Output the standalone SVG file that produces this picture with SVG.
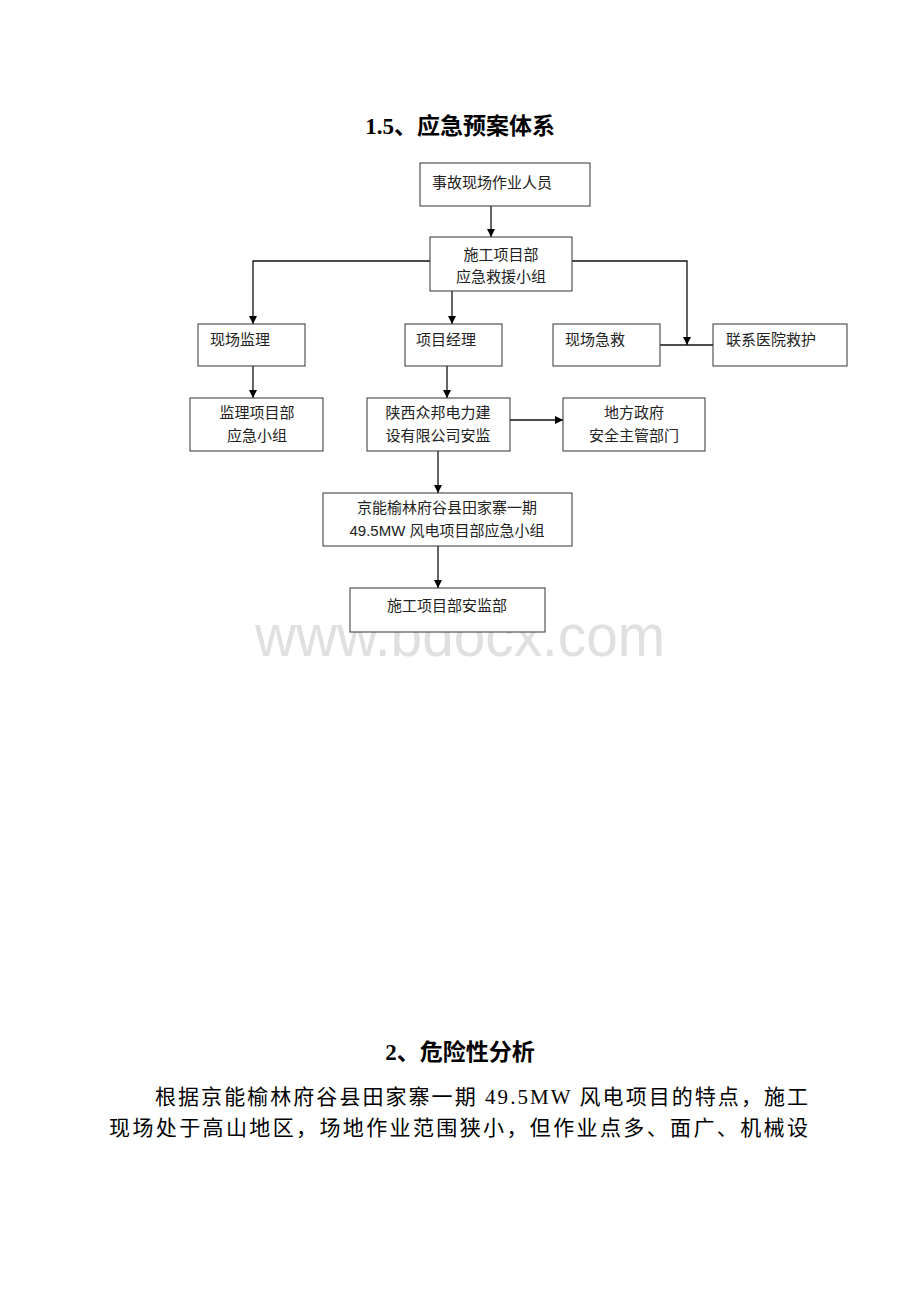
<svg xmlns="http://www.w3.org/2000/svg" width="920" height="1302" viewBox="0 0 920 1302">
<defs>
<style>
.box{fill:#fff;stroke:#333;stroke-width:1}
.t{font-family:"Liberation Sans","Noto Sans CJK SC",sans-serif;font-size:15px;fill:#222}
.c{text-anchor:middle}
.ln{fill:none;stroke:#111;stroke-width:1.3}
.h{font-family:"Liberation Serif","Noto Sans CJK SC",serif;font-weight:bold;font-size:23px;fill:#000;text-anchor:middle}
.p{font-family:"Liberation Serif","Noto Sans CJK SC",serif;font-size:21px;fill:#000}
</style>
<marker id="ar" viewBox="0 0 10 10" refX="10" refY="5" markerWidth="8" markerHeight="8" orient="auto" markerUnits="userSpaceOnUse"><path d="M0,0L10,5L0,10z" fill="#000"/></marker>
</defs>
<rect width="920" height="1302" fill="#fff"/>
<text class="h" x="460" y="134">1.5、应急预案体系</text>
<text x="255" y="656" font-family="Liberation Sans,sans-serif" font-size="60" fill="#e0e0e0" textLength="410" lengthAdjust="spacingAndGlyphs">www.bdocx.com</text>
<g id="connectors">
<path class="ln" d="M491,206V237" marker-end="url(#ar)"/>
<path class="ln" d="M430,261H253V324" marker-end="url(#ar)"/>
<path class="ln" d="M572,261H687V345" marker-end="url(#ar)"/>
<path class="ln" d="M660,345H713"/>
<path class="ln" d="M452,291V324" marker-end="url(#ar)"/>
<path class="ln" d="M253,366V398" marker-end="url(#ar)"/>
<path class="ln" d="M447,366V398" marker-end="url(#ar)"/>
<path class="ln" d="M510,420H563" marker-end="url(#ar)"/>
<path class="ln" d="M438,451V493" marker-end="url(#ar)"/>
<path class="ln" d="M438,546V588" marker-end="url(#ar)"/>
</g>
<g id="n1"><rect class="box" x="420" y="163" width="170" height="43"/><text class="t" x="432" y="188">事故现场作业人员</text></g>
<g id="n2"><rect class="box" x="430" y="237" width="142" height="54"/><text class="t c" x="501" y="260">施工项目部</text><text class="t c" x="501" y="282">应急救援小组</text></g>
<g id="n3"><rect class="box" x="198" y="324" width="107" height="42"/><text class="t" x="210" y="345">现场监理</text></g>
<g id="n4"><rect class="box" x="405" y="324" width="97" height="42"/><text class="t" x="416" y="345">项目经理</text></g>
<g id="n5"><rect class="box" x="553" y="324" width="107" height="42"/><text class="t" x="565" y="345">现场急救</text></g>
<g id="n6"><rect class="box" x="713" y="324" width="134" height="42"/><text class="t" x="726" y="345">联系医院救护</text></g>
<g id="n7"><rect class="box" x="190" y="398" width="133" height="53"/><text class="t c" x="257" y="418">监理项目部</text><text class="t c" x="257" y="441">应急小组</text></g>
<g id="n8"><rect class="box" x="367" y="398" width="143" height="53"/><text class="t c" x="438" y="418">陕西众邦电力建</text><text class="t c" x="438" y="441">设有限公司安监</text></g>
<g id="n9"><rect class="box" x="563" y="398" width="142" height="53"/><text class="t c" x="634" y="418">地方政府</text><text class="t c" x="634" y="441">安全主管部门</text></g>
<g id="n10"><rect class="box" x="323" y="493" width="249" height="53"/><text class="t c" x="447" y="513">京能榆林府谷县田家寨一期</text><text class="t c" x="447" y="536">49.5MW 风电项目部应急小组</text></g>
<g id="n11"><rect class="box" x="350" y="588" width="195" height="44"/><text class="t c" x="447" y="611">施工项目部安监部</text></g>
<text class="h" x="460" y="1060">2、危险性分析</text>
<text class="p" x="155" y="1104" textLength="653" lengthAdjust="spacing">根据京能榆林府谷县田家寨一期 49.5MW 风电项目的特点，施工</text>
<text class="p" x="109" y="1135" textLength="699" lengthAdjust="spacing">现场处于高山地区，场地作业范围狭小，但作业点多、面广、机械设</text>
</svg>
